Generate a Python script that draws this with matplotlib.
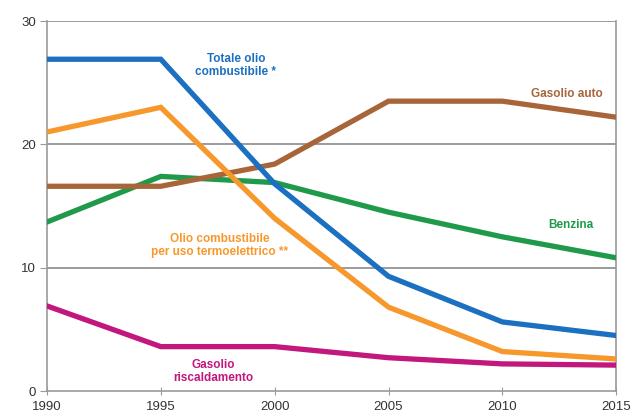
import matplotlib.pyplot as plt

plt.rcParams['font.family'] = ['Liberation Sans', 'DejaVu Sans']

years = [1990, 1995, 2000, 2005, 2010, 2015]
totale_olio = [26.9, 26.9, 16.8, 9.3, 5.6, 4.5]
olio_termo = [21.0, 23.0, 14.0, 6.8, 3.2, 2.6]
gasolio_auto = [16.6, 16.6, 18.4, 23.5, 23.5, 22.2]
benzina = [13.7, 17.4, 16.9, 14.5, 12.5, 10.8]
gasolio_risc = [6.9, 3.6, 3.6, 2.7, 2.2, 2.1]

series = [
    (gasolio_risc, "#c2177d"),
    (benzina, "#1f9a4b"),
    (gasolio_auto, "#a8653a"),
    (olio_termo, "#f7982c"),
    (totale_olio, "#1b70c1"),
]

fig = plt.figure(figsize=(6.34, 4.2), dpi=100)
ax = fig.add_axes([0.074, 0.069, 0.898, 0.881])

for vals, col in series:
    ax.plot(years, vals, color=col, lw=3.8, solid_joinstyle='miter', zorder=3)

ax.set_xlim(1990, 2015)
ax.set_ylim(0, 30)
ax.set_xticks(years)
ax.set_yticks([0, 10, 20, 30])
for y in [10, 20, 30]:
    ax.axhline(y, color="#8a8a8a", lw=1.2, zorder=1)

for s in ['left', 'bottom', 'right']:
    ax.spines[s].set_color("#9a9a9a")
    ax.spines[s].set_linewidth(1.2)
ax.spines['top'].set_visible(False)
ax.tick_params(axis='x', direction='inout', length=6, color="#9a9a9a",
               labelcolor="#333333", labelsize=9.5, pad=4)
ax.tick_params(axis='y', direction='out', length=5, color="#9a9a9a",
               labelcolor="#333333", labelsize=9.5, pad=3)

lab = dict(fontsize=8.5, fontweight='bold', ha='center', va='center', linespacing=1.15)
ax.text(1998.3, 26.4, "Totale olio\ncombustibile *", color="#1b70c1", **lab)
ax.text(2012.85, 24.1, "Gasolio auto", color="#a8653a", **lab)
ax.text(2013.0, 13.5, "Benzina", color="#1f9a4b", **lab)
ax.text(1997.6, 11.8, "Olio combustibile\nper uso termoelettrico **", color="#f7982c", **lab)
ax.text(1997.3, 1.6, "Gasolio\nriscaldamento", color="#c2177d", **lab)

fig.savefig("out.png", dpi=100)
